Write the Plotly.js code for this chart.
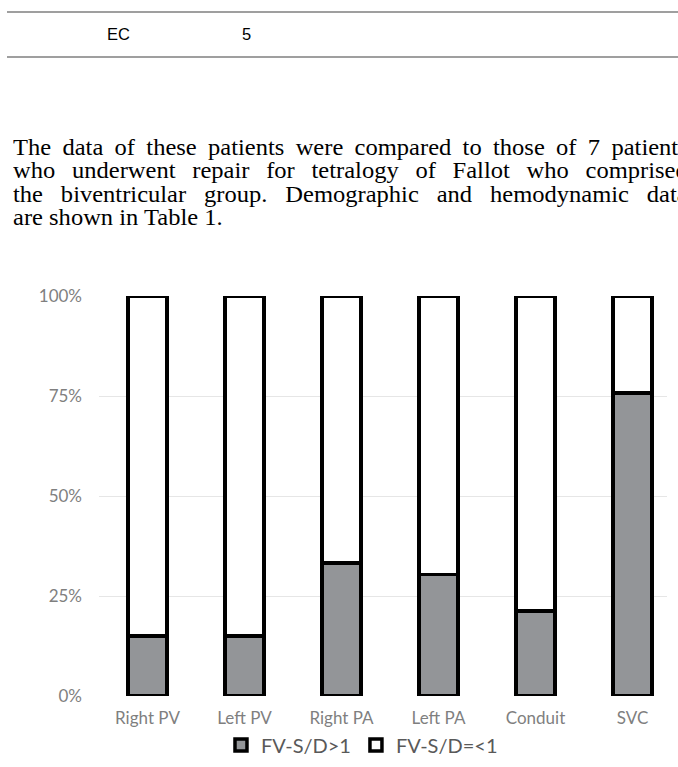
<!DOCTYPE html>
<html>
<head>
<meta charset="utf-8">
<script src="https://cdn.plot.ly/plotly-3.0.1.min.js"></script>
<style>
  html, body { margin:0; padding:0; background:#fff; }
  body { width:678px; height:767px; overflow:hidden; position:relative; }
  #chart { position:absolute; left:0; top:0; width:678px; height:767px; }
  .rule { position:absolute; left:7px; width:700px; height:0; border-top:2px solid #9f9f9f; }
  .cell { position:absolute; font-family:"Liberation Sans", Arial, sans-serif; font-size:16.5px; color:#000; }
  .para { position:absolute; left:13px; width:619px; font-family:"Liberation Serif","Times New Roman",serif;
          font-size:22.5px; line-height:23.3px; color:#000; transform:scaleX(1.09); transform-origin:0 0; }
  .para div { text-align:justify; text-align-last:justify; white-space:nowrap; }
  .para div.last { text-align:left; text-align-last:left; }
</style>
</head>
<body>
<div id="chart"></div>
<div class="rule" style="top:11px"></div>
<div class="cell" style="left:107px; top:25px">EC</div>
<div class="cell" style="left:242px; top:25px">5</div>
<div class="rule" style="top:56px"></div>
<div class="para" style="top:136px">
  <div>The data of these patients were compared to those of 7 patients</div>
  <div>who underwent repair for tetralogy of Fallot who comprised</div>
  <div>the biventricular group. Demographic and hemodynamic data</div>
  <div class="last">are shown in Table 1.</div>
</div>
<script>
const categories = ['Right PV', 'Left PV', 'Right PA', 'Left PA', 'Conduit', 'SVC'];
const seriesNames = ['FV-S/D>1', 'FV-S/D=<1'];
const ratioAbove = [15, 15, 33.3, 30.4, 21.3, 75.8];
const ratioBelow = [85, 85, 66.7, 69.6, 78.7, 24.2];
const yTickVals = [0, 25, 50, 75, 100];
const yTickText = ['0%', '25%', '50%', '75%', '100%'];

const chartFont = 'Lato, "Open Sans", sans-serif';

const traces = [
  {
    type: 'bar', name: seriesNames[0], x: categories, y: ratioAbove, width: 0.4,
    marker: { color: '#939598', line: { color: '#000000', width: 3.5 } },
    hoverinfo: 'skip'
  },
  {
    type: 'bar', name: seriesNames[1], x: categories, y: ratioBelow, width: 0.4,
    marker: { color: '#ffffff', line: { color: '#000000', width: 3.5 } },
    hoverinfo: 'skip'
  }
];

const layout = {
  width: 678, height: 767,
  margin: { l: 99, r: 11, t: 296, b: 71, pad: 0, autoexpand: false },
  paper_bgcolor: 'rgba(0,0,0,0)',
  plot_bgcolor: 'rgba(0,0,0,0)',
  barmode: 'stack',
  showlegend: true,
  xaxis: {
    type: 'category', range: [-0.5, 5.356], showgrid: false, showline: false, zeroline: false,
    ticks: '', tickfont: { family: chartFont, size: 17, color: '#7f7f7f' }, ticklabelstandoff: 10,
    fixedrange: true, automargin: false
  },
  yaxis: {
    range: [0, 100], tickmode: 'array', tickvals: yTickVals, ticktext: yTickText,
    showgrid: true, gridcolor: '#e6e6e6', gridwidth: 1, zeroline: false, showline: false,
    ticks: '', tickfont: { family: chartFont, size: 17, color: '#7f7f7f' }, ticklabelstandoff: 16,
    fixedrange: true, automargin: false
  },
  legend: {
    orientation: 'h', x: 0.463, xanchor: 'center', y: -0.1225, yanchor: 'middle',
    traceorder: 'normal', font: { family: chartFont, size: 20, color: '#595959' },
    bgcolor: 'rgba(0,0,0,0)', itemclick: false, itemdoubleclick: false
  }
};

Plotly.newPlot('chart', traces, layout, { displayModeBar: false, staticPlot: true });
</script>
</body>
</html>
